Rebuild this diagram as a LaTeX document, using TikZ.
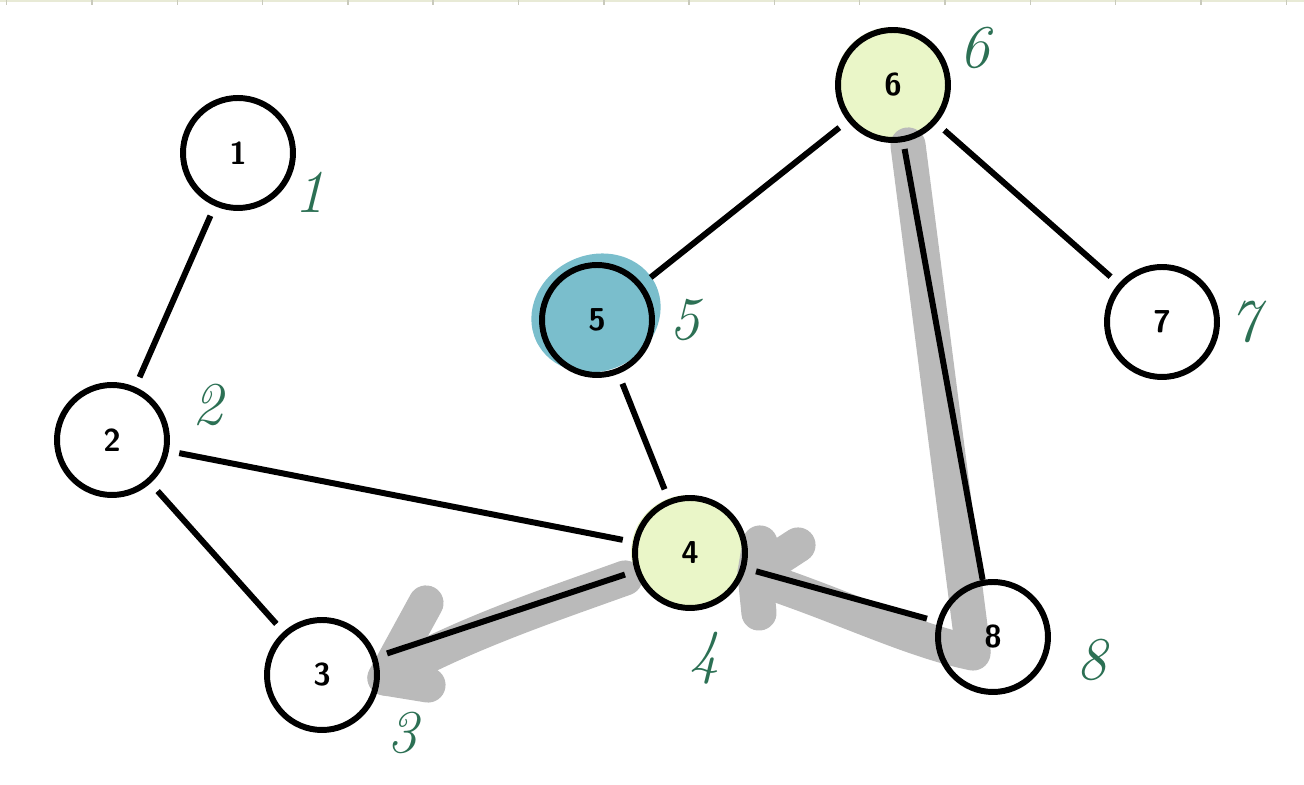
\documentclass[tikz,border=0pt]{standalone}
\usepackage{tikz}
\usetikzlibrary{%
  arrows,%
  shapes,%
  positioning,% wg. " of "
  calc
}
\definecolor{hlgray}{RGB}{186,186,186}
\definecolor{pale}{RGB}{234,246,200}
\definecolor{teal5}{RGB}{122,190,204}
\definecolor{pen}{RGB}{44,112,84}
\definecolor{rule}{RGB}{232,234,214}

\begin{document}
\begin{tikzpicture}[
  font=\small\sffamily\bfseries,
  line width=1.7pt,
  vertex/.style={circle,draw,minimum size=1.1cm,inner sep=0pt},
  link/.style={shorten <=3pt,shorten >=3pt},
  marker/.style={hlgray,line width=10pt,line cap=round,line join=round},
  tag/.style={pen,font=\LARGE\itshape\mdseries\rmfamily},
]
\useasboundingbox (0,0) rectangle (13.04,7.85);

% ruler at the top
\draw[rule,line width=0.6pt] (0,7.84) -- (13.04,7.84);
\foreach \x in {0,...,15} {
  \draw[rule!70!gray,line width=0.4pt] (0.067+0.853*\x,7.80) -- (0.067+0.853*\x,7.85);
}

% coloured blobs
\fill[teal5] (5.96,4.72) ellipse [x radius=0.66,y radius=0.58,rotate=25];
\fill[pale] (6.88,2.33) circle (0.57);
\fill[pale] (8.92,7.01) circle (0.57);

% gray highlights
\draw[marker] (9.08,6.40) -- (9.73,1.35);
\draw[marker] (9.73,1.32) .. controls (9.1,1.45) and (8.4,1.80) .. (7.60,2.06);
\draw[marker] (7.60,2.42) -- (7.55,2.12) -- (7.98,2.40);
\draw[marker] (7.55,2.12) -- (7.59,1.72);
\draw[marker] (6.25,2.07) .. controls (5.5,1.80) and (4.6,1.50) .. (3.85,1.07);
\draw[marker] (4.26,1.82) -- (3.85,1.07) -- (4.28,1.00);

% nodes
\node[vertex] (n1) at (2.38,6.32) {1};
\node[vertex] (n2) at (1.12,3.45) {2};
\node[vertex] (n3) at (3.22,1.10) {3};
\node[vertex] (n4) at (6.90,2.32) {4};
\node[vertex] (n5) at (5.97,4.65) {5};
\node[vertex] (n6) at (8.93,7.00) {6};
\node[vertex] (n7) at (11.62,4.63) {7};
\node[vertex] (n8) at (9.93,1.48) {8};

% edges
\draw[link] (n1) -- (n2);
\draw[link] (n2) -- (n4);
\draw[link] (n2) -- (n3);
\draw[link] (n5) -- (n4);
\draw[link] (n5) -- (n6);
\draw[link] (n6) -- (n7);
\draw[shorten <=2pt] (n6) -- (n8);
\draw[link] (n8) -- (n4);
\draw[link] (n4) -- (n3);

% handwritten numbers
\node[tag] (h1) at (3.10,5.93) {1};
\node[tag] (h2) at (2.08,3.80) {2};
\node[tag] (h3) at (4.03,0.52) {3};
\node[tag] (h4) at (7.05,1.27) {4};
\node[tag] (h5) at (6.85,4.65) {5};
\node[tag] (h6) at (9.75,7.37) {6};
\node[tag] (h7) at (12.45,4.63) {7};
\node[tag] (h8) at (10.92,1.25) {8};
\end{tikzpicture}
\end{document}
